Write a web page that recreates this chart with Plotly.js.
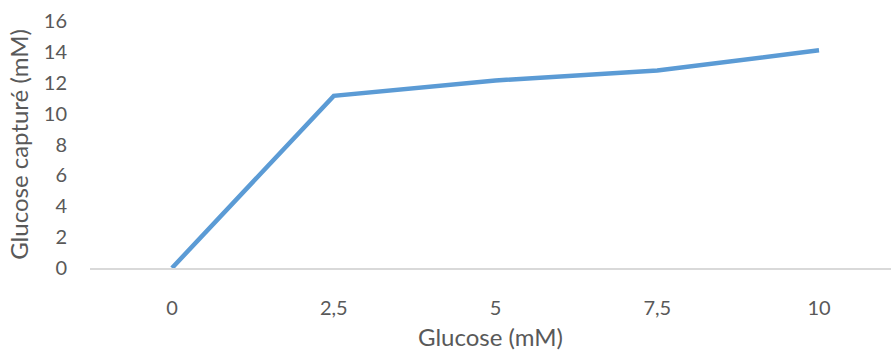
<!DOCTYPE html>
<html><head><meta charset="utf-8">
<script src="https://cdn.plot.ly/plotly-3.0.1.min.js"></script>
<style>html,body{margin:0;padding:0;background:#fff}#chart{width:891px;height:351px}</style>
</head><body><div id="chart"></div>
<script>
const categories = ["0", "2,5", "5", "7,5", "10"];
const glucoseCaptured = [0, 11.15, 12.15, 12.8, 14.1];
const yTicks = [0, 2, 4, 6, 8, 10, 12, 14, 16];

const trace = {
  x: categories, y: glucoseCaptured, type: 'scatter', mode: 'lines',
  line: {color: '#5B9BD5', width: 4.5, shape: 'linear'}, hoverinfo: 'skip'
};
const layout = {
  width: 891, height: 351,
  margin: {l: 90, r: 0, t: 21, b: 83},
  paper_bgcolor: '#fff', plot_bgcolor: '#fff',
  font: {family: 'Lato, "Open Sans", sans-serif', color: '#595959', size: 20},
  showlegend: false,
  xaxis: {
    type: 'category', range: [-0.507, 4.445],
    showgrid: false, zeroline: false, showline: true, linecolor: '#d9d9d9', linewidth: 1.5,
    ticks: '', ticklabelstandoff: 21,
    title: {text: 'Glucose (mM)', font: {size: 24, color: '#595959'}, standoff: 14}
  },
  yaxis: {
    range: [0, 16], tickvals: yTicks, ticktext: yTicks.map(String),
    showgrid: false, zeroline: false, showline: false, ticks: '', ticklabelstandoff: 22,
    title: {text: 'Glucose capturé (mM)', font: {size: 24, color: '#595959'}, standoff: 8}
  }
};
Plotly.newPlot('chart', [trace], layout, {staticPlot: true, displayModeBar: false});
</script></body></html>
